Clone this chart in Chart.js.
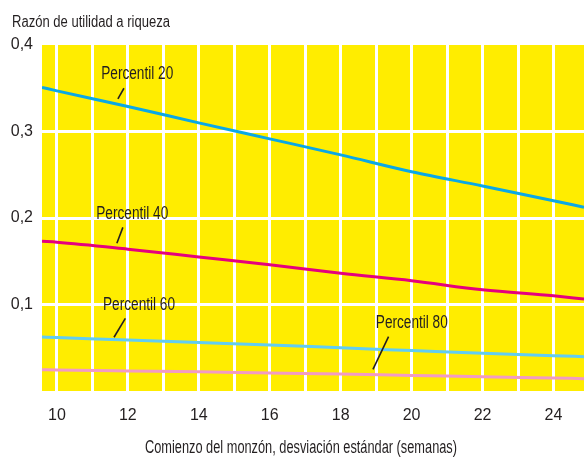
<!DOCTYPE html>
<html>
<head>
<meta charset="utf-8">
<script src="https://cdn.jsdelivr.net/npm/chart.js@4/dist/chart.umd.min.js"></script>
<style>
  html, body { margin: 0; padding: 0; background: #ffffff; }
  #wrap { width: 584px; height: 457px; position: relative; }
</style>
</head>
<body>
<div id="wrap"><canvas id="c"></canvas></div>
<script>
// Monsoon onset spread (weeks) against the profit-to-wealth ratio, by wealth percentile
const weeks = [9.58, 10, 12, 14, 16, 18, 20, 22, 24, 24.86];
const pct20 = [0.351, 0.347, 0.329, 0.310, 0.2915, 0.273, 0.2535, 0.237, 0.220, 0.2124];
const pct40 = [0.173, 0.172, 0.164, 0.155, 0.146, 0.136, 0.1275, 0.117, 0.110, 0.1064];
const pct60 = [0.0624, 0.0618, 0.0590, 0.0561, 0.0533, 0.0499, 0.0467, 0.0435, 0.0408, 0.0397];
const pct80 = [0.0246, 0.0243, 0.0232, 0.0222, 0.0208, 0.0196, 0.0180, 0.0166, 0.0150, 0.0143];
const seriesNames = ['Percentil 20', 'Percentil 40', 'Percentil 60', 'Percentil 80'];
const xTickValues = [10, 11, 12, 13, 14, 15, 16, 17, 18, 19, 20, 21, 22, 23, 24];
const xTickLabels = ['10', '', '12', '', '14', '', '16', '', '18', '', '20', '', '22', '', '24'];
const yTickValues = [0.1, 0.2, 0.3, 0.4];
const yTickLabels = ['0,1', '0,2', '0,3', '0,4'];
const yTitle = 'Razón de utilidad a riqueza';
const xTitle = 'Comienzo del monzón, desviación estándar (semanas)';

const FONT = "'Liberation Sans Narrow', 'Liberation Sans', Arial, sans-serif";
const INK = '#231f20';
const colors = ['#0aa8e6', '#e5007e', '#62cdf2', '#f29bc3'];

// label callouts: text anchor (left, middle) and leader stroke, in data units
const callouts = [
  { text: 0, tx: 11.25, ty: 0.3665, l: [11.72, 0.3376, 11.89, 0.350] },
  { text: 1, tx: 11.11, ty: 0.2046, l: [11.69, 0.1708, 11.86, 0.1892] },
  { text: 2, tx: 11.30, ty: 0.0994, l: [11.61, 0.0621, 11.93, 0.0840] },
  { text: 3, tx: 18.99, ty: 0.0783, l: [18.91, 0.0251, 19.35, 0.0628] }
];

const toPoints = arr => arr.map((v, i) => ({ x: weeks[i], y: v }));

// draws text squeezed horizontally to a condensed width
function condensedText(ctx, text, x, y, width, align) {
  const natural = ctx.measureText(text).width;
  const k = width / natural;
  ctx.save();
  ctx.translate(x, y);
  ctx.scale(k, 1);
  ctx.textAlign = align;
  ctx.fillText(text, 0, 0);
  ctx.restore();
}

const plotBackground = {
  id: 'plotBackground',
  beforeDraw(chart) {
    const { ctx, chartArea: a } = chart;
    ctx.save();
    ctx.fillStyle = '#ffed00';
    ctx.fillRect(a.left, a.top, a.right - a.left, a.bottom - a.top);
    ctx.restore();
  }
};

const textLayer = {
  id: 'textLayer',
  afterDraw(chart) {
    const { ctx } = chart;
    const xs = chart.scales.x, ys = chart.scales.y;
    ctx.save();
    ctx.fillStyle = INK;
    ctx.textBaseline = 'alphabetic';
    ctx.font = '16px ' + FONT;
    condensedText(ctx, yTitle, 12, 27, 158, 'left');
    ctx.font = '18px ' + FONT;
    condensedText(ctx, xTitle, 301, 453, 312, 'center');

    ctx.textBaseline = 'middle';
    ctx.strokeStyle = INK;
    ctx.lineWidth = 1.6;
    callouts.forEach(c => {
      condensedText(ctx, seriesNames[c.text], xs.getPixelForValue(c.tx), ys.getPixelForValue(c.ty), 72, 'left');
      ctx.beginPath();
      ctx.moveTo(xs.getPixelForValue(c.l[0]), ys.getPixelForValue(c.l[1]));
      ctx.lineTo(xs.getPixelForValue(c.l[2]), ys.getPixelForValue(c.l[3]));
      ctx.stroke();
    });
    ctx.restore();
  }
};

new Chart(document.getElementById('c'), {
  type: 'line',
  data: {
    datasets: [pct20, pct40, pct60, pct80].map((arr, i) => ({
      label: seriesNames[i],
      data: toPoints(arr),
      borderColor: colors[i],
      borderWidth: 3,
      pointRadius: 0,
      cubicInterpolationMode: 'monotone',
      fill: false
    }))
  },
  options: {
    responsive: true,
    maintainAspectRatio: false,
    animation: false,
    events: [],
    layout: { padding: { top: 45, left: 0, right: 0, bottom: 0 } },
    plugins: { legend: { display: false }, tooltip: { enabled: false }, title: { display: false } },
    scales: {
      x: {
        type: 'linear',
        min: 9.58,
        max: 24.86,
        afterBuildTicks: s => { s.ticks = xTickValues.map(v => ({ value: v })); },
        afterFit: s => { s.height = 66; },
        border: { display: false },
        grid: { color: '#ffffff', lineWidth: 3, drawTicks: false },
        ticks: {
          autoSkip: false,
          maxRotation: 0,
          padding: 15,
          color: INK,
          font: { family: FONT, size: 16 },
          callback: (v, i) => xTickLabels[i]
        }
      },
      y: {
        min: 0,
        max: 0.4,
        afterBuildTicks: s => { s.ticks = yTickValues.map(v => ({ value: v })); },
        afterFit: s => { s.width = 42; },
        border: { display: false },
        grid: {
          color: ctx => (ctx.tick && ctx.tick.value > 0.35 ? 'rgba(0,0,0,0)' : '#ffffff'),
          lineWidth: 3,
          drawTicks: false
        },
        ticks: {
          padding: 9,
          color: INK,
          font: { family: FONT, size: 16 },
          callback: (v, i) => yTickLabels[i]
        }
      }
    }
  },
  plugins: [plotBackground, textLayer]
});
</script>
</body>
</html>
